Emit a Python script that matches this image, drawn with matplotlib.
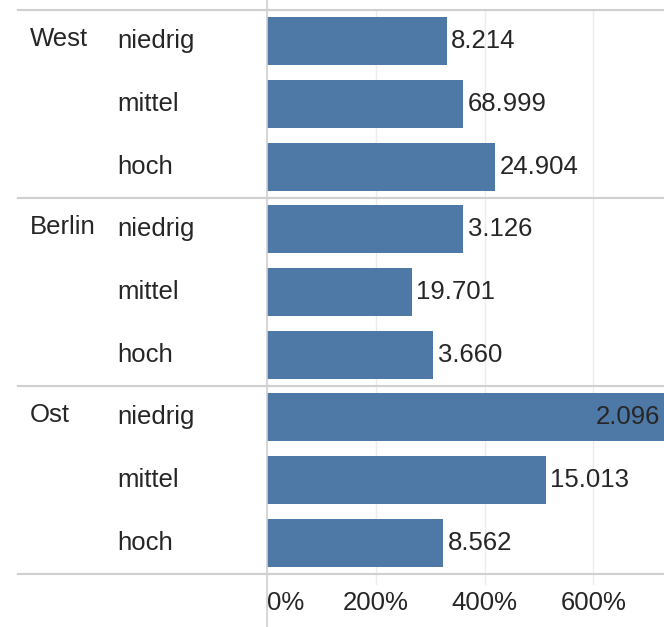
import matplotlib.pyplot as plt
from matplotlib.lines import Line2D

regions = ["West", "Berlin", "Ost"]
levels = ["niedrig", "mittel", "hoch"]
# bar length in percent
pct = [331, 361, 420,
       361, 266, 306,
       730, 513, 324]
# value labels shown at the bar ends
counts = [8214, 68999, 24904,
          3126, 19701, 3660,
          2096, 15013, 8562]
ticks = [0, 200, 400, 600]

W, H = 664, 627
fig = plt.figure(figsize=(W / 100, H / 100), dpi=100)
font = ["Liberation Sans Narrow", "Liberation Sans", "DejaVu Sans"]
plt.rcParams['font.family'] = font
txt = "#262626"
blue = "#4e79a7"
fs = 18.5

x0, x1 = 267, 664
ytop, ybot = 10, 574
ax = fig.add_axes([x0 / W, (H - ybot) / H, (x1 - x0) / W, (ybot - ytop) / H])

n = len(pct)
ypos = list(range(n))
ax.barh(ypos, pct, height=0.77, color=blue, zorder=3)
ax.set_ylim(n - 0.5, -0.5)
xmax = 730
ax.set_xlim(0, xmax)

for i, (v, c) in enumerate(zip(pct, counts)):
    lab = f"{c:,}".replace(",", ".")
    if v > xmax * 0.9:
        ax.text(v - 8, i, lab, ha="right", va="center", fontsize=fs, color=txt, zorder=4)
    else:
        ax.text(v + 8, i, lab, ha="left", va="center", fontsize=fs, color=txt, zorder=4)

for t in ticks[1:]:
    ax.axvline(t, ymin=-0.017, ymax=1, color="#ececec", lw=1, zorder=1, clip_on=False)

ax.set_xticks(ticks)
ax.set_xticklabels([f"{t}%" for t in ticks], fontsize=fs, color=txt)
ax.tick_params(axis="x", length=0, pad=12)
ax.get_xticklabels()[0].set_ha("left")
ax.set_yticks([])
for s in ax.spines.values():
    s.set_visible(False)

# row labels
for i in range(n):
    yf = ax.transData.transform((0, i))[1] / H
    ax.text(117 / W, yf, levels[i % 3], transform=fig.transFigure, ha="left",
            va="center", fontsize=fs, color=txt)
    if i % 3 == 0:
        ax.text(30 / W, yf + 0.003, regions[i // 3], transform=fig.transFigure, ha="left",
                va="center", fontsize=fs, color=txt)

# group separators and the vertical axis line
for g in range(len(regions) + 1):
    yd = -0.5 + 3 * g
    yf = ax.transData.transform((0, yd))[1] / H
    fig.add_artist(Line2D([18 / W, 1], [yf, yf], color="#d0d0d0", lw=1.5))
fig.add_artist(Line2D([x0 / W, x0 / W], [0, 1], color="#d0d0d0", lw=1.2))

fig.savefig("out.png", dpi=100)
